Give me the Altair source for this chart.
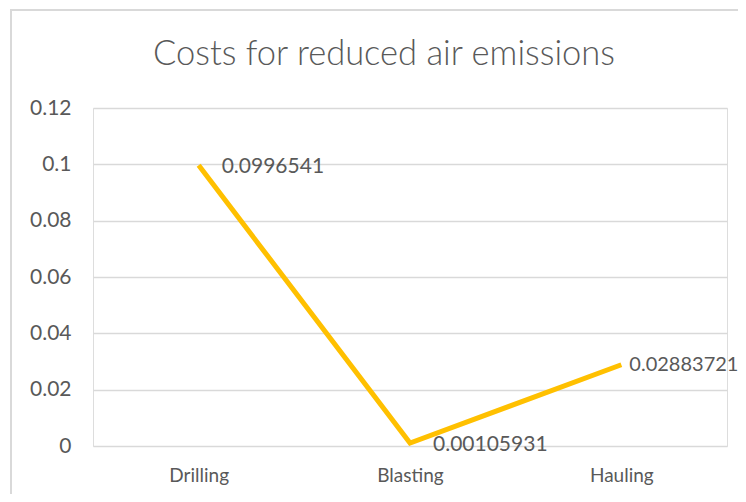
import altair as alt
import pandas as pd

categories = ["Drilling", "Blasting", "Hauling"]
values = [0.0996541, 0.00105931, 0.02883721]
title_text = "Costs for reduced air emissions"

df = pd.DataFrame({"stage": categories, "value": values})

FONT = "Lato"
TXT = "#595959"
GRID = "#d9d9d9"

base = alt.Chart(df)

x = alt.X("stage:N", sort=categories, title=None,
          scale=alt.Scale(paddingInner=0, paddingOuter=0.5),
          axis=alt.Axis(labelAngle=0, labelFontSize=19, labelColor=TXT, labelFont=FONT,
                        labelPadding=20, ticks=False, domain=False, grid=False))
y = alt.Y("value:Q", title=None,
          scale=alt.Scale(domain=[0, 0.12], nice=False),
          axis=alt.Axis(values=[0, 0.02, 0.04, 0.06, 0.08, 0.1, 0.12], format="~g",
                        labelFontSize=21, labelColor=TXT, labelFont=FONT, labelPadding=22,
                        ticks=False, domain=False, gridColor=GRID, gridWidth=1.5))

one = base.transform_filter("datum.stage == 'Drilling'")

border = one.mark_rect(fill="transparent", stroke=GRID, strokeWidth=2).encode(
    x=alt.value(-82), x2=alt.value(760), y=alt.value(-98), y2=alt.value(520)
)

title = one.mark_text(align="center", baseline="alphabetic", fontSize=34.5, font=FONT,
                      fontWeight=300, color=TXT).encode(
    x=alt.value(291), y=alt.value(-43), text=alt.value(title_text)
)

line = base.mark_line(color="#FFC000", strokeWidth=5).encode(x=x, y=y)

labels_a = base.transform_filter("datum.stage != 'Hauling'").transform_calculate(
    label="toString(datum.value)"
).mark_text(align="left", baseline="middle", dx=23, dy=2, fontSize=21, font=FONT, color=TXT).encode(
    x=alt.X("stage:N", sort=categories), y="value:Q", text="label:N")

labels_b = base.transform_filter("datum.stage == 'Hauling'").transform_calculate(
    label="toString(datum.value)"
).mark_text(align="left", baseline="middle", dx=8, dy=0, fontSize=20, font=FONT, color=TXT).encode(
    x=alt.X("stage:N", sort=categories), y="value:Q", text="label:N")

chart = alt.layer(border, title, line, labels_a, labels_b).properties(
    width=634, height=338,
    autosize=alt.AutoSizeParams(type="none"),
    padding={"left": 85, "top": 100, "right": 11, "bottom": 48},
).configure_view(strokeWidth=0, stroke="transparent").configure(background="white")

chart.save("out.html", embed_options={"renderer": "svg", "actions": False})
